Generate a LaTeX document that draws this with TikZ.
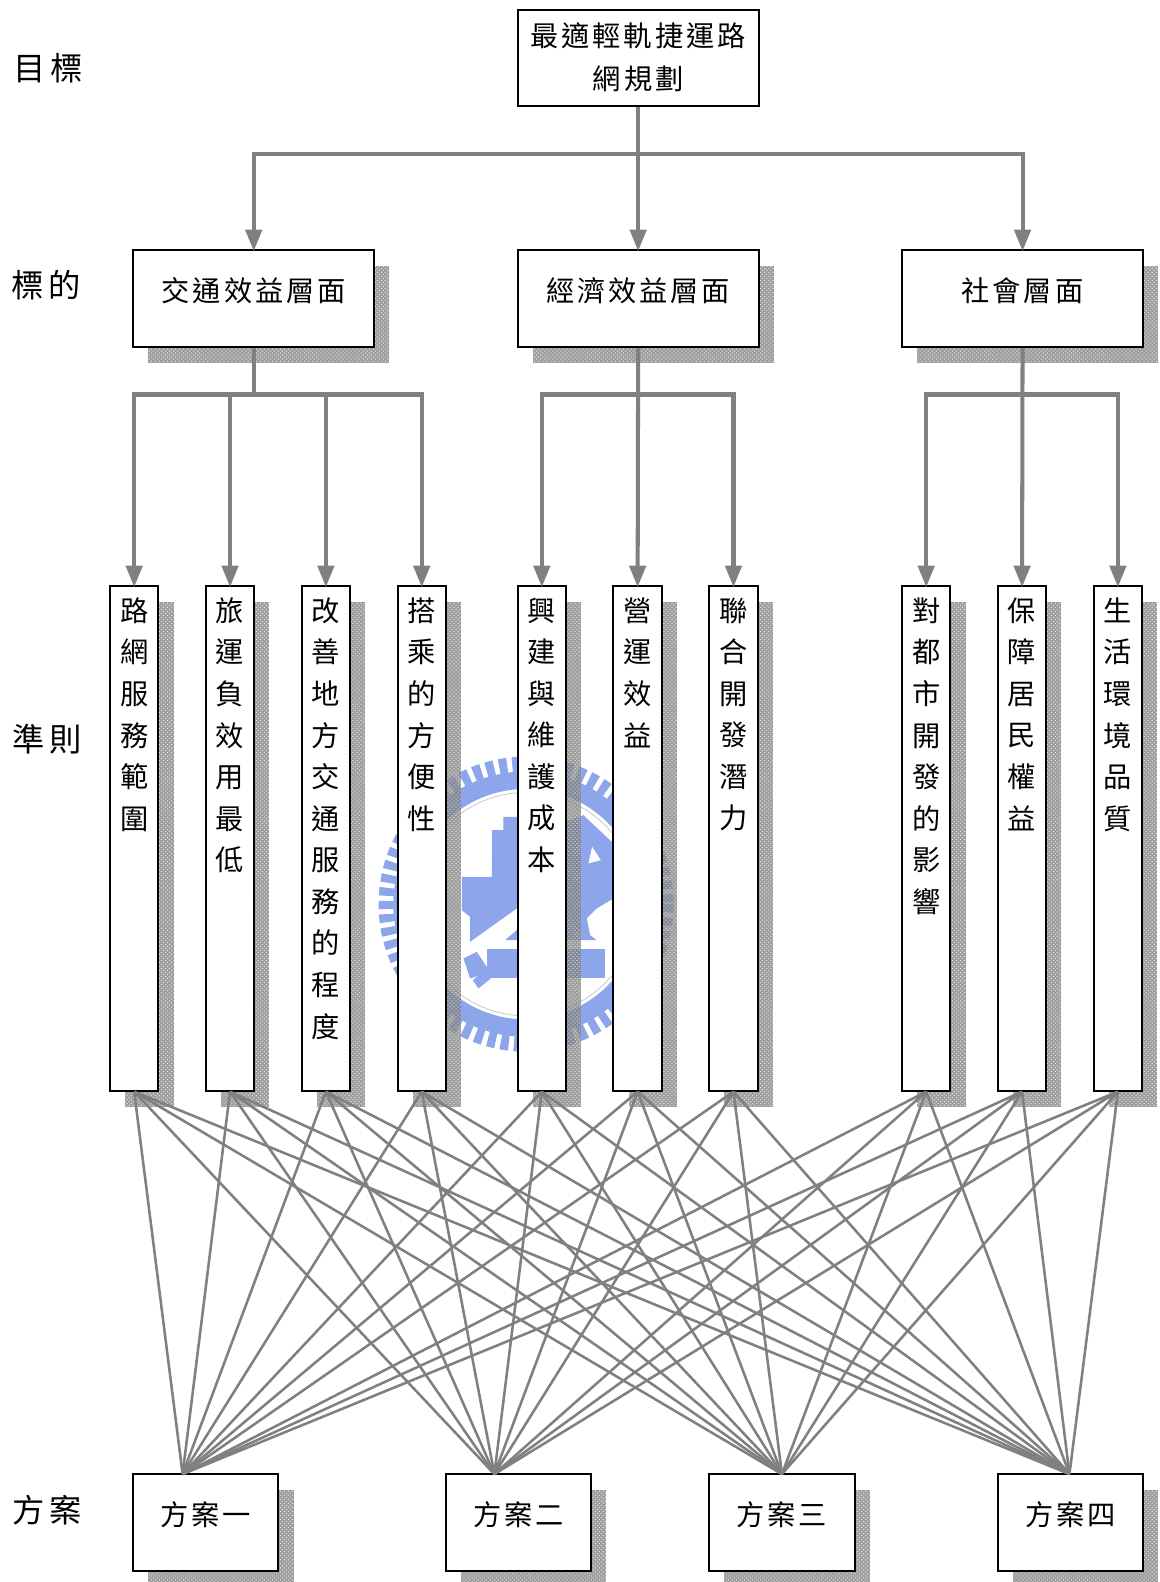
\documentclass[tikz,border=0pt]{standalone}
\usepackage{fontspec}
\setmainfont{Noto Sans CJK TC}
\newfontfamily\boxfont[LetterSpace=10]{Noto Sans CJK TC}
\newfontfamily\rowfont[LetterSpace=14]{Noto Sans CJK TC}
\usetikzlibrary{arrows.meta,shadows,patterns}
\definecolor{crestblue}{HTML}{8CA5EB}
\definecolor{wirecolor}{HTML}{808080}
\newcommand{\coltext}[1]{\parbox[c][372pt][t]{30pt}{\vspace*{7pt}\centering\fontsize{21}{30.9}\selectfont #1}}
\tikzset{
  speckled/.style={drop shadow={shadow xshift=11.25pt,shadow yshift=-12pt,opacity=.76,fill=black!50,postaction={pattern=crosshatch dots,pattern color=white}}},
  goalbox/.style={draw,fill=white,line width=1.5pt,minimum width=179.25pt,minimum height=72pt,inner sep=0pt,align=center,font=\boxfont\fontsize{21}{31.5}\selectfont},
  aimbox/.style={goalbox,speckled,text depth=14pt},
  critbox/.style={draw,fill=white,line width=1.5pt,minimum width=36pt,minimum height=375pt,inner sep=0pt,speckled},
  planbox/.style={goalbox,speckled,minimum width=108pt,text depth=14pt},
  rowlabel/.style={font=\rowfont\fontsize{24}{28}\selectfont,inner sep=0pt},
  tree/.style={draw=wirecolor,line width=3pt,shorten >=-1.5pt,-{Triangle[length=16pt,width=12pt]}},
  treebar/.style={draw=wirecolor,line width=3pt},
  web/.style={draw=wirecolor,line width=1.9pt}
}
\begin{document}
\begin{tikzpicture}[x=0.75pt,y=-0.75pt]
    \clip (0,0) rectangle (1149,1568);
    % crest behind the columns
    \begin{scope}[x=.2478pt,y=-.2478pt,shift={(275.1pt,-553.9pt)}]
        \draw[crestblue,line width=11.2pt,dash pattern=on 6pt off 3.8pt] (468,477) circle (420);
        \draw[crestblue,line width=13pt] (468,477) circle (372);
        \draw[black!25,line width=.5pt] (468,477) circle (335);
        \fill[crestblue] (275,395) -- (365,395) -- (365,255) -- (400,255) -- (400,215) -- (440,215) -- (440,490) -- (300,590) -- (300,515) -- (275,495) -- cycle;
        \fill[white] (275,262) rectangle (365,275) (275,290) rectangle (365,303) (275,318) rectangle (365,331) (275,346) rectangle (365,359) (275,374) rectangle (365,385);
        \fill[crestblue] (440,555) -- (405,585) -- (440,585) -- cycle;
        \fill[crestblue] (350,612) rectangle (705,700);
        \fill[crestblue] (280,640) -- (320,620) -- (360,680) -- (300,700) -- cycle;
        \fill[crestblue] (308,705) -- (345,675) -- (362,700) -- (325,730) -- cycle;
        \fill[crestblue] (590,230) -- (640,210) -- (730,295) -- (730,460) -- (680,490) -- (650,520) -- (660,570) -- (680,585) -- (590,585) -- cycle;
        \fill[white] (666,305) -- (692,345) -- (655,355) -- cycle;
    \end{scope}
    % goal and the three aims
    \node[goalbox,text depth=3pt] (goal) at (632.5,57.5) {最適輕軌捷運路\\網規劃};
    \node[aimbox] (traffic) at (251.5,296) {交通效益層面};
    \node[aimbox] (econ) at (632.5,296) {經濟效益層面};
    \node[aimbox] (social) at (1013.5,296) {社會層面};
    % criteria
    \node[critbox] (crit1) at (133,831) {\coltext{路\\網\\服\\務\\範\\圍}};
    \node[critbox] (crit2) at (228,831) {\coltext{旅\\運\\負\\效\\用\\最\\低}};
    \node[critbox] (crit3) at (323,831) {\coltext{改\\善\\地\\方\\交\\通\\服\\務\\的\\程\\度}};
    \node[critbox] (crit4) at (418,831) {\coltext{搭\\乘\\的\\方\\便\\性}};
    \node[critbox] (crit5) at (537,831) {\coltext{興\\建\\與\\維\\護\\成\\本}};
    \node[critbox] (crit6) at (632,831) {\coltext{營\\運\\效\\益}};
    \node[critbox] (crit7) at (727,831) {\coltext{聯\\合\\開\\發\\潛\\力}};
    \node[critbox] (crit8) at (918,831) {\coltext{對\\都\\市\\開\\發\\的\\影\\響}};
    \node[critbox] (crit9) at (1013,831) {\coltext{保\\障\\居\\民\\權\\益}};
    \node[critbox] (crit10) at (1108,831) {\coltext{生\\活\\環\\境\\品\\質}};
    % plans
    \node[planbox] (plan1) at (204,1509) {方案一};
    \node[planbox] (plan2) at (514,1509) {方案二};
    \node[planbox] (plan3) at (775,1509) {方案三};
    \node[planbox] (plan4) at (1061,1509) {方案四};
    % row labels
    \node[rowlabel] (rowgoal) at (48,68) {目標};
    \node[rowlabel] (rowaim) at (46,283) {標的};
    \node[rowlabel] (rowcrit) at (47,733) {準則};
    \node[rowlabel] (rowplan) at (47,1497) {方案};
    % tree connectors
    \coordinate (topbus) at (632.5,153);
    \coordinate (trafficbus) at (251.5,391);
    \coordinate (econbus) at (632.5,391);
    \coordinate (socialbus) at (1013.5,391);
    \draw[tree] (goal.south) -- (econ.north);
    \draw[tree] (topbus) -| (traffic.north);
    \draw[tree] (topbus) -| (social.north);
    \draw[treebar] (traffic.south) -- (trafficbus);
    \draw[tree] (trafficbus) -| (crit1.north);
    \draw[tree] (trafficbus) -| (crit2.north);
    \draw[tree] (trafficbus) -| (crit3.north);
    \draw[tree] (trafficbus) -| (crit4.north);
    \draw[tree] (econ.south) -- (crit6.north);
    \draw[tree] (econbus) -| (crit5.north);
    \draw[tree] (econbus) -| (crit7.north);
    \draw[tree] (social.south) -- (crit9.north);
    \draw[tree] (socialbus) -| (crit8.north);
    \draw[tree] (socialbus) -| (crit10.north);
    % web between criteria and plans
    \coordinate (apex1) at (181,1461);
    \coordinate (apex2) at (490,1461);
    \coordinate (apex3) at (775,1461);
    \coordinate (apex4) at (1060,1461);
    \draw[web] (crit1.south) -- (apex1) (crit1.south) -- (apex2) (crit1.south) -- (apex3) (crit1.south) -- (apex4);
    \draw[web] (crit2.south) -- (apex1) (crit2.south) -- (apex2) (crit2.south) -- (apex3) (crit2.south) -- (apex4);
    \draw[web] (crit3.south) -- (apex1) (crit3.south) -- (apex2) (crit3.south) -- (apex3) (crit3.south) -- (apex4);
    \draw[web] (crit4.south) -- (apex1) (crit4.south) -- (apex2) (crit4.south) -- (apex3) (crit4.south) -- (apex4);
    \draw[web] (crit5.south) -- (apex1) (crit5.south) -- (apex2) (crit5.south) -- (apex3) (crit5.south) -- (apex4);
    \draw[web] (crit6.south) -- (apex1) (crit6.south) -- (apex2) (crit6.south) -- (apex3) (crit6.south) -- (apex4);
    \draw[web] (crit7.south) -- (apex1) (crit7.south) -- (apex2) (crit7.south) -- (apex3) (crit7.south) -- (apex4);
    \draw[web] (crit8.south) -- (apex1) (crit8.south) -- (apex2) (crit8.south) -- (apex3) (crit8.south) -- (apex4);
    \draw[web] (crit9.south) -- (apex1) (crit9.south) -- (apex2) (crit9.south) -- (apex3) (crit9.south) -- (apex4);
    \draw[web] (crit10.south) -- (apex1) (crit10.south) -- (apex2) (crit10.south) -- (apex3) (crit10.south) -- (apex4);
\end{tikzpicture}
\end{document}
